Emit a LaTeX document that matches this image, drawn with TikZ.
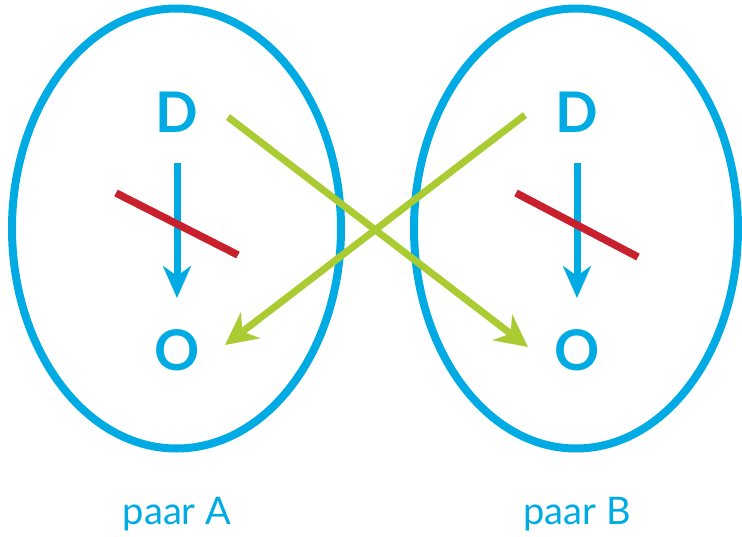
\documentclass[tikz,border=0pt]{standalone}
\usepackage{fontspec}
\setmainfont{Lato}
\usetikzlibrary{arrows.meta}
\definecolor{cblue}{RGB}{0,171,228}
\definecolor{cgreen}{RGB}{170,204,50}
\definecolor{cred}{RGB}{200,32,44}
\begin{document}
\begin{tikzpicture}[x=1pt,y=-1pt,
  oval/.style={draw=cblue,line width=8pt},
  letter/.style={text=cblue,font=\fontsize{56}{56}\selectfont\bfseries,inner sep=0pt},
  label/.style={text=cblue,font=\fontsize{38}{38}\selectfont,inner sep=0pt},
  blarrow/.style={draw=cblue,line width=7pt,-{Stealth[length=32pt,width=28pt,inset=10pt]}},
  grarrow/.style={draw=cgreen,line width=7pt,-{Stealth[length=32pt,width=32pt,inset=10pt]}},
  cross/.style={draw=cred,line width=7.5pt}]
\useasboundingbox (0,0) rectangle (742,536);
\draw[oval] (176.5,228.5) ellipse [x radius=164.5, y radius=220];
\draw[oval] (576,228.5) ellipse [x radius=162, y radius=220];
\node[letter] (da) at (177,112) {D};
\node[letter] (oa) at (177,350) {O};
\node[letter] (db) at (577,112) {D};
\node[letter] (ob) at (577,350) {O};
\coordinate (as) at (177,163);
\coordinate (ae) at (177,298);
\coordinate (bs) at (577,163);
\coordinate (be) at (577,298);
\draw[blarrow] (as) -- (ae);
\draw[blarrow] (bs) -- (be);
\coordinate (ra1) at (116,193);
\coordinate (ra2) at (238,255);
\coordinate (rb1) at (516,193);
\coordinate (rb2) at (638,257);
\draw[cross] (ra1) -- (ra2);
\draw[cross] (rb1) -- (rb2);
\coordinate (g1s) at (228,117);
\coordinate (g1e) at (528,347);
\coordinate (g2s) at (525,115);
\coordinate (g2e) at (225,345);
\draw[grarrow] (g1s) -- (g1e);
\draw[grarrow] (g2s) -- (g2e);
\node[label] (la) at (177,514) {paar A};
\node[label] (lb) at (577,514) {paar B};
\end{tikzpicture}
\end{document}
